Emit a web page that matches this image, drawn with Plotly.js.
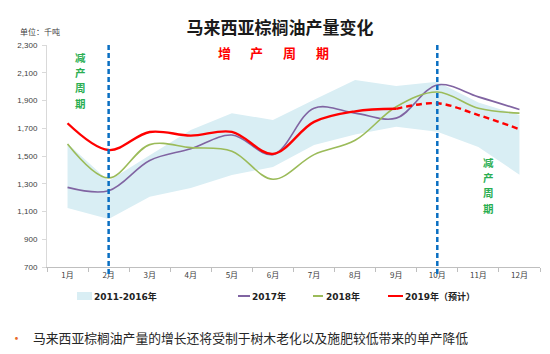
<!DOCTYPE html>
<html>
<head>
<meta charset="utf-8">
<script src="https://cdn.plot.ly/plotly-3.0.1.min.js"></script>
<style>html,body{margin:0;padding:0;background:#fff;}#chart{width:550px;height:354px;}</style>
</head>
<body>
<div id="chart"></div>
<script>
const months = ['1月','2月','3月','4月','5月','6月','7月','8月','9月','10月','11月','12月'];
const bandLow2011_2016  = [1125, 1046, 1207, 1269, 1363, 1420, 1580, 1655, 1711, 1675, 1565, 1365];
const bandHigh2011_2016 = [1590, 1320, 1505, 1687, 1808, 1760, 1905, 2048, 2005, 2036, 1885, 1795];
const prod2017 = [1274, 1250, 1468, 1552, 1651, 1510, 1845, 1809, 1773, 2012, 1926, 1835];
const prod2018 = [1587, 1342, 1582, 1560, 1535, 1332, 1510, 1613, 1855, 1961, 1844, 1809];
const prod2019 = [1736, 1543, 1673, 1647, 1674, 1515, 1746, 1822, 1840, 1880, 1795, 1693];
const forecastFrom = 8; // 9月 onward is forecast (dashed)
const legendLabels = ['2011-2016年', '2017年', '2018年', '2019年（预计）'];
const cycleUpText = '增产周期';
const cycleDownText = '减产周期';
const cycleLines = ['2月', '10月'];
const titleText = '马来西亚棕榈油产量变化';
const unitText = '单位：千吨';
const noteText = '马来西亚棕榈油产量的增长还将受制于树木老化以及施肥较低带来的单产降低';

const CJK = '"Noto Sans CJK SC", "Noto Sans", sans-serif';
const L = 47, R = 540, T = 45, B = 267;
const px = x => (x - L) / (R - L);
const py = y => (B - y) / (B - T);

const cPurple = '#8064a2', cGreen = '#9bbb59', cRed = '#ff0000', cBand = '#d9eef4';
const cBlue = '#0a6fc2', cCycleGreen = '#2aae52';

const traces = [
  {x: months, y: bandLow2011_2016, type: 'scatter', mode: 'lines', line: {width: 0, color: cBand}, hoverinfo: 'skip', showlegend: false},
  {x: months, y: bandHigh2011_2016, type: 'scatter', mode: 'lines', fill: 'tonexty', fillcolor: cBand, line: {width: 0, color: cBand}, name: legendLabels[0], showlegend: false},
  {x: months, y: prod2017, type: 'scatter', mode: 'lines', line: {color: cPurple, width: 1.6, shape: 'spline', smoothing: 1}, name: legendLabels[1], showlegend: false},
  {x: months, y: prod2018, type: 'scatter', mode: 'lines', line: {color: cGreen, width: 1.6, shape: 'spline', smoothing: 1}, name: legendLabels[2], showlegend: false},
  {x: months, y: prod2019.map((v, i) => i <= forecastFrom ? v : null), type: 'scatter', mode: 'lines', line: {color: cRed, width: 2.4, shape: 'spline', smoothing: 1}, name: legendLabels[3], showlegend: false},
  {x: months, y: prod2019.map((v, i) => i >= forecastFrom ? v : null), type: 'scatter', mode: 'lines', line: {color: cRed, width: 2.4, shape: 'spline', smoothing: 1, dash: '6px,4px'}, name: legendLabels[3], showlegend: false}
];

const shapes = cycleLines.map(m => ({
  type: 'line', xref: 'x', yref: 'paper', x0: months.indexOf(m), x1: months.indexOf(m),
  y0: py(274), y1: py(42), line: {color: cBlue, width: 2.5, dash: '5px,3px'}, layer: 'above'
}));

// legend symbols
shapes.push({type: 'rect', xref: 'paper', yref: 'paper', x0: px(77), x1: px(92), y0: py(300), y1: py(292), fillcolor: cBand, line: {width: 0}});
[[238, 250, cPurple], [313, 323, cGreen], [388, 403, cRed]].forEach(([a, b, c]) => {
  shapes.push({type: 'line', xref: 'paper', yref: 'paper', x0: px(a), x1: px(b), y0: py(296), y1: py(296), line: {color: c, width: 2}});
});

const annotations = [];
annotations.push({text: unitText, xref: 'paper', yref: 'paper', x: px(18), y: py(32), xanchor: 'left', yanchor: 'middle', showarrow: false, font: {family: CJK, size: 8, color: '#404040'}});

// legend labels
[[92, 0], [250, 1], [324, 2], [403, 3]].forEach(([x, i]) => {
  annotations.push({text: legendLabels[i], xref: 'paper', yref: 'paper', x: px(x), y: py(296), xanchor: 'left', yanchor: 'middle', showarrow: false,
    font: {family: '"DejaVu Sans", ' + CJK, size: 9, color: '#222', weight: 'bold'}});
});

// 增产周期 (red, horizontal, spaced)
const upX = [224, 256, 289, 322];
cycleUpText.split('').forEach((ch, i) => {
  annotations.push({text: ch, xref: 'paper', yref: 'paper', x: px(upX[i]), y: py(52), xanchor: 'center', yanchor: 'middle', showarrow: false,
    font: {family: CJK, size: 13, color: cRed, weight: 'bold'}});
});
// 减产周期 (green, vertical stack) twice
[[80, 57], [488, 162]].forEach(([cx, cy]) => {
  cycleDownText.split('').forEach((ch, i) => {
    annotations.push({text: ch, xref: 'paper', yref: 'paper', x: px(cx), y: py(cy + i * 15.4), xanchor: 'center', yanchor: 'middle', showarrow: false,
      font: {family: CJK, size: 10.5, color: cCycleGreen, weight: 'bold'}});
  });
});

// bullet note
annotations.push({text: '•', xref: 'paper', yref: 'paper', x: px(16), y: py(337), xanchor: 'center', yanchor: 'middle', showarrow: false, font: {family: CJK, size: 13, color: '#e8692a'}});
annotations.push({text: noteText, xref: 'paper', yref: 'paper', x: px(31), y: py(337), xanchor: 'left', yanchor: 'middle', showarrow: false, font: {family: CJK, size: 12.8, color: '#262626'}});

const layout = {
  width: 550, height: 354,
  margin: {l: L, r: 550 - R, t: T, b: 354 - B},
  paper_bgcolor: '#fff', plot_bgcolor: '#fff',
  showlegend: false,
  title: {text: titleText, x: px(280), xref: 'paper', y: 1 - 28 / 354, yref: 'container', xanchor: 'center', yanchor: 'middle',
    font: {family: CJK, size: 17, color: '#1a1a1a', weight: 'bold'}},
  xaxis: {type: 'category', range: [-0.5, 11.5], showgrid: false, zeroline: false, showline: true, linecolor: '#bfbfbf', linewidth: 1,
    ticks: 'outside', tickson: 'boundaries', ticklen: 4, tickcolor: '#bfbfbf', tickfont: {family: CJK, size: 8, color: '#404040'}, fixedrange: true},
  yaxis: {range: [700, 2300], tickvals: [700, 900, 1100, 1300, 1500, 1700, 1900, 2100, 2300], tickformat: ',d', showgrid: false, zeroline: false,
    showline: true, linecolor: '#d9d9d9', linewidth: 1, ticks: 'outside', ticklen: 4, tickcolor: '#d9d9d9',
    tickfont: {family: '"Liberation Sans", Arial, sans-serif', size: 8, color: '#404040'}, ticklabelstandoff: 3, fixedrange: true},
  shapes: shapes,
  annotations: annotations
};

Plotly.newPlot('chart', traces, layout, {staticPlot: true, displayModeBar: false});
</script>
</body>
</html>
